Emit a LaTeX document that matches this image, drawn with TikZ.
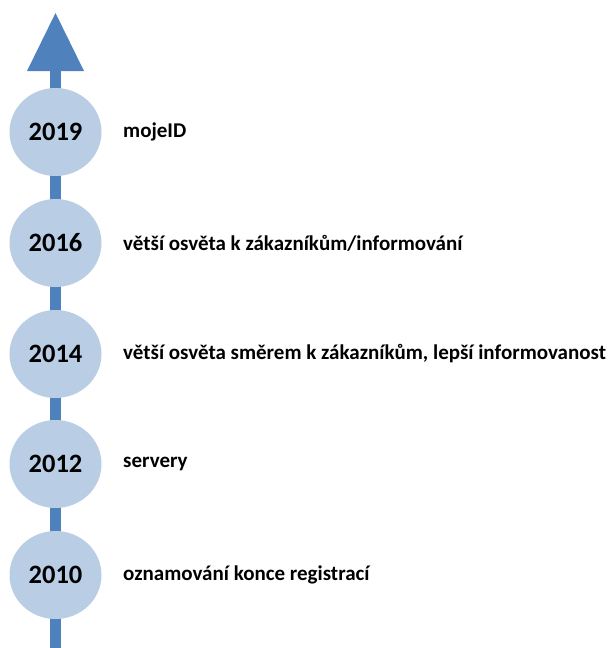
\documentclass[tikz,border=0pt]{standalone}
\usepackage{fontspec}
\setmainfont{Carlito}
\definecolor{shaftblue}{HTML}{4F81BD}
\definecolor{dotblue}{HTML}{B9CDE5}
\usetikzlibrary{shapes.geometric}
\begin{document}
\begin{tikzpicture}[x=1pt,y=-1pt,
  yearnode/.style={ellipse, fill=dotblue, minimum width=92pt, minimum height=88pt, inner sep=0pt, font=\bfseries\fontsize{26.5}{30}\selectfont},
  labelnode/.style={anchor=west, inner sep=0pt, font=\bfseries\fontsize{21}{25}\selectfont}]
\useasboundingbox (0,0) rectangle (609,648);
% shaft and arrow head
\coordinate (tip) at (55.5,13);
\fill[shaftblue] (50,71) rectangle (61,648);
\fill[shaftblue] (27,71) -- (tip) -- (84,71) -- cycle;
% years
\node[yearnode] (y2019) at (55.5,132) {2019};
\node[yearnode] (y2016) at (55.5,243) {2016};
\node[yearnode] (y2014) at (55.5,354) {2014};
\node[yearnode] (y2012) at (55.5,464) {2012};
\node[yearnode] (y2010) at (55.5,575) {2010};
% labels
\node[labelnode] (l2019) at (123,132) {mojeID};
\node[labelnode] (l2016) at (123,243) {větší osvěta k zákazníkům/informování};
\node[labelnode] (l2014) at (123,354) {větší osvěta směrem k zákazníkům, lepší informovanost};
\node[labelnode] (l2012) at (123,464) {servery};
\node[labelnode] (l2010) at (123,575) {oznamování konce registrací};
\end{tikzpicture}
\end{document}
